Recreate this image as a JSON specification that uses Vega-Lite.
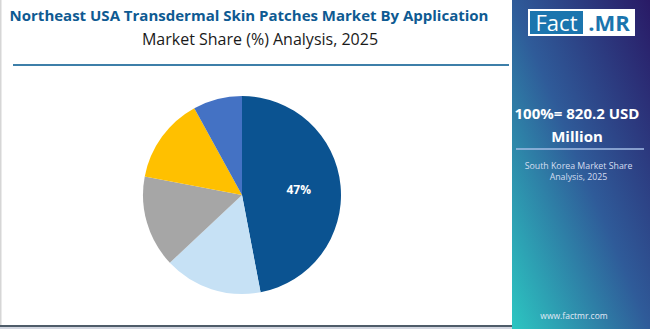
{
  "$schema": "https://vega.github.io/schema/vega-lite/v6.json",
  "background": "white",
  "autosize": "none",
  "padding": {"top": 65, "left": 0, "right": 0, "bottom": 0},
  "width": 650,
  "height": 264,
  "config": {"view": {"stroke": null}},
  "data": {
    "values": [
      {"application": "Pain Management", "share": 47, "order": 1, "label": "47%"},
      {"application": "Hormone Replacement", "share": 16, "order": 2, "label": ""},
      {"application": "Nicotine Cessation", "share": 15, "order": 3, "label": ""},
      {"application": "Cardiovascular", "share": 14, "order": 4, "label": ""},
      {"application": "Others", "share": 8, "order": 5, "label": ""}
    ]
  },
  "layer": [
    {
      "mark": {"type": "arc", "outerRadius": 99, "x": 242, "y": 130},
      "encoding": {
        "theta": {"field": "share", "type": "quantitative", "stack": true},
        "order": {"field": "order", "type": "quantitative"},
        "color": {
          "field": "application",
          "type": "nominal",
          "scale": {
            "domain": ["Pain Management", "Hormone Replacement", "Nicotine Cessation", "Cardiovascular", "Others"],
            "range": ["#0B5391", "#C6E1F5", "#A6A6A6", "#FFC000", "#4472C4"]
          },
          "legend": null
        }
      }
    },
    {
      "mark": {"type": "text", "radius": 57, "x": 242, "y": 130, "font": "Open Sans", "fontSize": 12, "fontWeight": "bold", "fill": "white"},
      "encoding": {
        "theta": {"field": "share", "type": "quantitative", "stack": true},
        "order": {"field": "order", "type": "quantitative"},
        "text": {"field": "label"}
      }
    },
    {
      "data": {"values": [{}]},
      "layer": [
        {"mark": {"type": "text", "text": "Northeast USA Transdermal Skin Patches Market By Application", "align": "center", "baseline": "alphabetic", "font": "Open Sans", "fontSize": 15, "fontWeight": "bold", "fill": "#0E5A92"},
         "encoding": {"x": {"value": 249}, "y": {"value": -44.5}}},
        {"mark": {"type": "text", "text": "Market Share (%) Analysis, 2025", "align": "center", "baseline": "alphabetic", "font": "Open Sans", "fontSize": 16, "fill": "#1a1a1a"},
         "encoding": {"x": {"value": 260}, "y": {"value": -20}}},
        {"mark": {"type": "rule", "stroke": "#3D7FA9", "strokeWidth": 2},
         "encoding": {"x": {"value": 13}, "x2": {"value": 509}, "y": {"value": 0}}},
        {"mark": {"type": "rule", "stroke": "#D6D6D6", "strokeWidth": 1.5},
         "encoding": {"x": {"value": 0.75}, "y": {"value": -65}, "y2": {"value": 262}}},
        {"mark": {"type": "rule", "stroke": "#4E5C69", "strokeWidth": 2},
         "encoding": {"x": {"value": 0}, "x2": {"value": 512}, "y": {"value": 261}}},
        {"mark": {"type": "rule", "stroke": "#C3C8D6", "strokeWidth": 1.5},
         "encoding": {"x": {"value": 0}, "x2": {"value": 512}, "y": {"value": 263}}},
        {"mark": {"type": "rect",
          "fill": {
            "gradient": "linear",
            "x1": 1, "y1": 0, "x2": 0, "y2": 1,
            "stops": [
              {"offset": 0, "color": "#291A66"},
              {"offset": 0.5, "color": "#2F5B99"},
              {"offset": 1, "color": "#2CC6C1"}
            ]
          }},
         "encoding": {"x": {"value": 512}, "x2": {"value": 650}, "y": {"value": -65}, "y2": {"value": 264}}},
        {"mark": {"type": "rect", "fill": "white"},
         "encoding": {"x": {"value": 528}, "x2": {"value": 635}, "y": {"value": -56}, "y2": {"value": -29}}},
        {"mark": {"type": "rect", "fill": "#1B75AE"},
         "encoding": {"x": {"value": 530}, "x2": {"value": 583}, "y": {"value": -54}, "y2": {"value": -31}}},
        {"mark": {"type": "text", "text": "Fact", "align": "center", "baseline": "middle", "font": "Open Sans", "fontSize": 22, "fill": "white"},
         "encoding": {"x": {"value": 556.5}, "y": {"value": -41.5}}},
        {"mark": {"type": "text", "text": ".MR", "align": "center", "baseline": "middle", "font": "Open Sans", "fontSize": 22, "fontWeight": "bold", "fill": "#1B75AE"},
         "encoding": {"x": {"value": 609}, "y": {"value": -41.5}}},
        {"mark": {"type": "text", "text": "100%= 820.2 USD", "align": "center", "baseline": "middle", "font": "Open Sans", "fontSize": 15, "fontWeight": "bold", "fill": "white"},
         "encoding": {"x": {"value": 577}, "y": {"value": 49}}},
        {"mark": {"type": "text", "text": "Million", "align": "center", "baseline": "middle", "font": "Open Sans", "fontSize": 15, "fontWeight": "bold", "fill": "white"},
         "encoding": {"x": {"value": 577}, "y": {"value": 72}}},
        {"mark": {"type": "rule", "stroke": "#A5BEE6", "strokeWidth": 1.5},
         "encoding": {"x": {"value": 516}, "x2": {"value": 644}, "y": {"value": 84}}},
        {"mark": {"type": "text", "text": "South Korea Market Share", "align": "center", "baseline": "middle", "font": "Open Sans", "fontSize": 8.8, "fill": "#D5DDF0"},
         "encoding": {"x": {"value": 578.5}, "y": {"value": 101}}},
        {"mark": {"type": "text", "text": "Analysis, 2025", "align": "center", "baseline": "middle", "font": "Open Sans", "fontSize": 8.8, "fill": "#D5DDF0"},
         "encoding": {"x": {"value": 578.5}, "y": {"value": 111.5}}},
        {"mark": {"type": "text", "text": "www.factmr.com", "align": "center", "baseline": "middle", "font": "Open Sans", "fontSize": 8.5, "fill": "#E3EAF6"},
         "encoding": {"x": {"value": 574}, "y": {"value": 251}}}
      ]
    }
  ]
}
